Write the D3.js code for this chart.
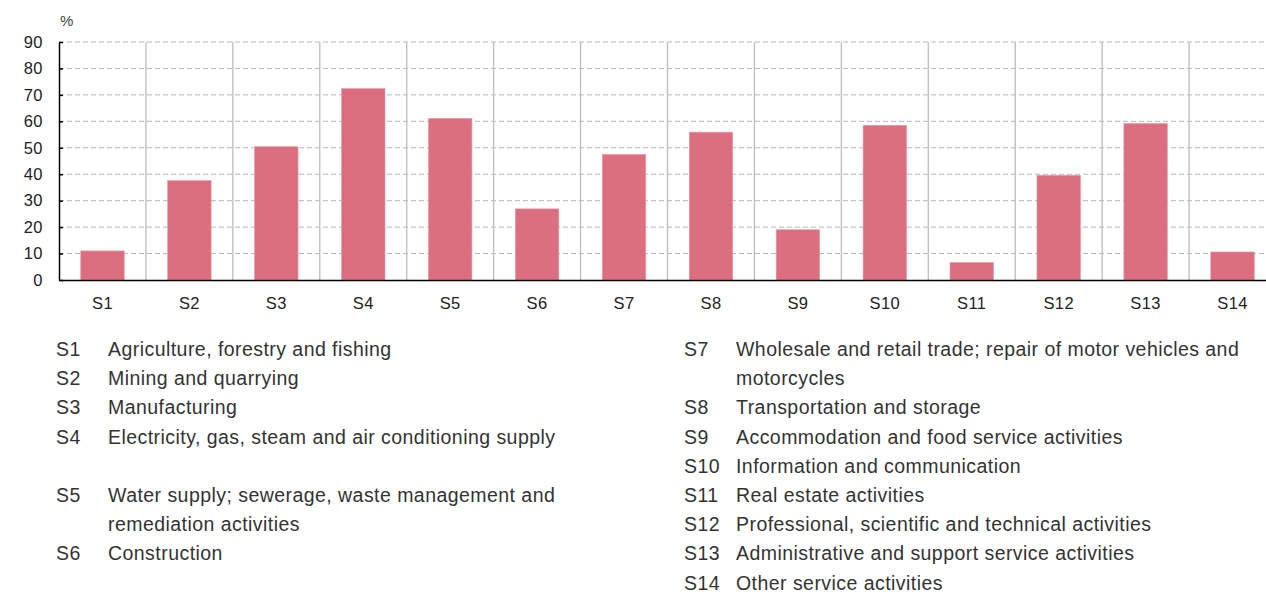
<!DOCTYPE html>
<html>
<head>
<meta charset="utf-8">
<script src="https://cdn.jsdelivr.net/npm/d3@7"></script>
<style>
  body { margin: 0; background: #fff; }
  svg { display: block; font-family: "Liberation Sans", Arial, sans-serif; }
</style>
</head>
<body>
<svg id="chart"></svg>
<script>
// sector codes and share (%)
const categories = ['S1', 'S2', 'S3', 'S4', 'S5', 'S6', 'S7', 'S8', 'S9', 'S10', 'S11', 'S12', 'S13', 'S14'];
const values = [11.0, 37.6, 50.4, 72.4, 61.1, 26.9, 47.5, 55.9, 19.0, 58.5, 6.6, 39.6, 59.2, 10.6];
const yTicks = [0, 10, 20, 30, 40, 50, 60, 70, 80, 90];

// legend text, "\n" marks a line break
const leftCodes = ['S1', 'S2', 'S3', 'S4', 'S5', 'S6'];
const leftNames = [
  'Agriculture, forestry and fishing',
  'Mining and quarrying',
  'Manufacturing',
  'Electricity, gas, steam and air conditioning supply\n',
  'Water supply; sewerage, waste management and\nremediation activities',
  'Construction'
];
const rightCodes = ['S7', 'S8', 'S9', 'S10', 'S11', 'S12', 'S13', 'S14'];
const rightNames = [
  'Wholesale and retail trade; repair of motor vehicles and\nmotorcycles',
  'Transportation and storage',
  'Accommodation and food service activities',
  'Information and communication',
  'Real estate activities',
  'Professional, scientific and technical activities',
  'Administrative and support service activities',
  'Other service activities'
];

const width = 1266, height = 594;
const margin = { top: 42, left: 59, bottom: 314 };
const plotRight = 1276;

const svg = d3.select('#chart')
    .attr('width', width)
    .attr('height', height);

const x = d3.scaleBand()
    .domain(categories)
    .range([margin.left, plotRight])
    .paddingInner(0)
    .paddingOuter(0);

const y = d3.scaleLinear()
    .domain([0, 90])
    .range([height - margin.bottom, margin.top]);

// horizontal dashed grid
svg.append('g')
  .selectAll('line')
  .data(yTicks.filter(d => d > 0))
  .join('line')
    .attr('x1', margin.left)
    .attr('x2', width)
    .attr('y1', d => y(d))
    .attr('y2', d => y(d))
    .attr('stroke', '#b8b8b8')
    .attr('stroke-width', 1)
    .attr('stroke-dasharray', '5,3');

// vertical separators between sectors
svg.append('g')
  .selectAll('line')
  .data(categories.slice(1))
  .join('line')
    .attr('x1', d => x(d))
    .attr('x2', d => x(d))
    .attr('y1', y(90))
    .attr('y2', y(0))
    .attr('stroke', '#bdbdbd')
    .attr('stroke-width', 1.3);

// bars
const barW = x.bandwidth() * 0.5;
svg.append('g')
  .selectAll('rect')
  .data(values)
  .join('rect')
    .attr('x', (d, i) => x(categories[i]) + (x.bandwidth() - barW) / 2)
    .attr('y', d => y(d))
    .attr('width', barW)
    .attr('height', d => y(0) - y(d))
    .attr('fill', '#db6f80')
    .attr('stroke', '#e89aa6')
    .attr('stroke-width', 0.6);

// y axis
const yAxis = d3.axisLeft(y)
    .tickValues(yTicks)
    .tickSizeInner(-4)
    .tickSizeOuter(0)
    .tickPadding(16);

const yAxisG = svg.append('g')
    .attr('transform', `translate(${margin.left},0)`)
    .call(yAxis);
yAxisG.select('.domain').attr('stroke', '#000').attr('stroke-width', 1.5);
yAxisG.selectAll('.tick line').attr('stroke', '#000').attr('stroke-width', 1.5);
yAxisG.selectAll('.tick text')
    .attr('font-size', 16.5)
    .attr('letter-spacing', 0.5)
    .attr('fill', '#222')
    .attr('font-family', '"Liberation Sans", Arial, sans-serif');

// x axis
const xAxis = d3.axisBottom(x).tickSize(0).tickPadding(17);
const xAxisG = svg.append('g')
    .attr('transform', `translate(0,${y(0)})`)
    .call(xAxis);
xAxisG.select('.domain').attr('stroke', '#000').attr('stroke-width', 1.5);
xAxisG.selectAll('.tick text')
    .attr('font-size', 16.5)
    .attr('letter-spacing', 0.4)
    .attr('fill', '#222')
    .attr('font-family', '"Liberation Sans", Arial, sans-serif');

// unit label
svg.append('text')
    .attr('x', 60)
    .attr('y', 26)
    .attr('font-size', 15)
    .attr('fill', '#444')
    .text('%');

// legend
const lineH = 29.2;
function drawLegend(codes, names, codeX, textX, top) {
  let line = 0;
  codes.forEach((c, i) => {
    svg.append('text')
        .attr('x', codeX)
        .attr('y', top + line * lineH)
        .attr('font-size', 19.5)
        .attr('letter-spacing', 0.45)
        .attr('fill', '#333')
        .text(c);
    names[i].split('\n').forEach(part => {
      svg.append('text')
          .attr('x', textX)
          .attr('y', top + line * lineH)
          .attr('font-size', 19.5)
          .attr('letter-spacing', 0.45)
          .attr('fill', '#333')
          .text(part);
      line++;
    });
  });
}
drawLegend(leftCodes, leftNames, 56, 108, 356);
drawLegend(rightCodes, rightNames, 684, 736, 356);
</script>
</body>
</html>
